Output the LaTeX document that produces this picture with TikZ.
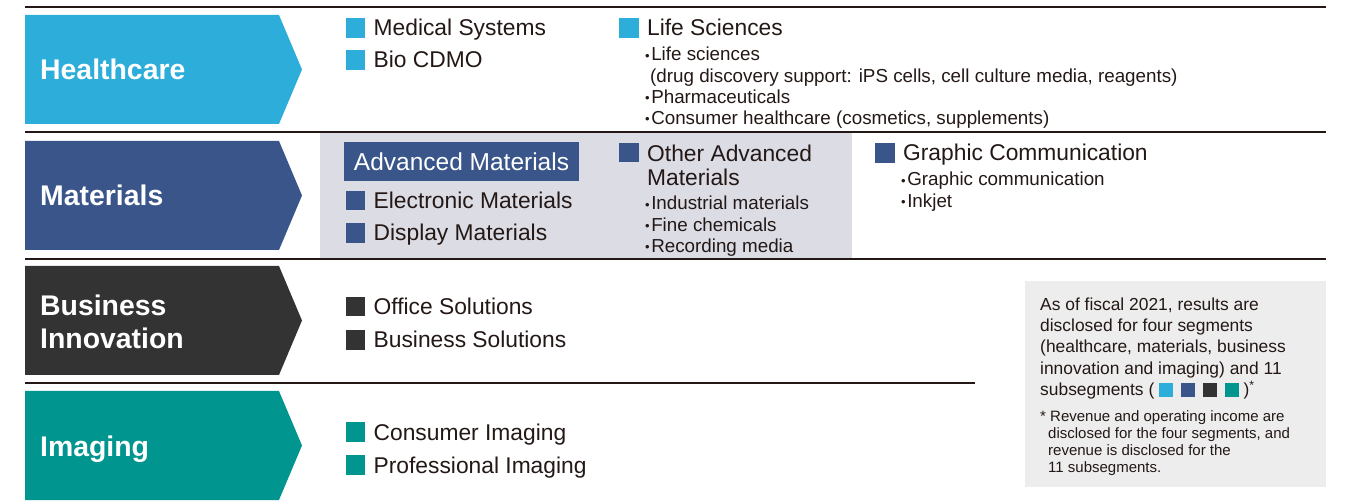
\documentclass[tikz,border=0pt]{standalone}
\usepackage{fontspec}
\setmainfont{Liberation Sans}
\usetikzlibrary{positioning}

\definecolor{hccyan}{HTML}{2DADD9}
\definecolor{matblue}{HTML}{39558A}
\definecolor{bidark}{HTML}{333333}
\definecolor{imgteal}{HTML}{00958F}
\definecolor{advgray}{HTML}{DCDCE5}
\definecolor{notegray}{HTML}{EDEDED}
\definecolor{inkblack}{HTML}{231815}

\newcommand{\pdot}{\raisebox{0.8pt}{\fontsize{13}{13}\selectfont\textbullet}\hspace{1.5pt}}
\newcommand{\keysq}[1]{\raisebox{-1pt}{\textcolor{#1}{\rule{13.5pt}{13.5pt}}}}

\begin{document}
\begin{tikzpicture}[x=1pt,y=-1pt]
	
	\tikzset{segment title/.style={
			inner sep=0pt,
			text=white,
			align=left,
			font=\fontsize{28.4}{33}\selectfont\bfseries
		},
		one line/.style={anchor=west, text height=20pt, text depth=0pt},
		sub square/.style={fill=#1, minimum size=19.5pt, inner sep=0pt},
		sub label/.style={
			inner sep=0pt,
			text=inkblack,
			text height=16pt, text depth=0pt,
			font=\fontsize{22.8}{24.5}\selectfont
		},
		sub block/.style={anchor=north west, inner sep=0pt, text=inkblack, align=left,
			font=\fontsize{22.8}{24.5}\selectfont},
		detail list/.style={anchor=north west, inner sep=0pt, text=inkblack, align=left,
			font=\fontsize{18.8}{21.3}\selectfont},
		note text/.style={anchor=north west, inner sep=0pt, text=inkblack, align=left,
			font=\fontsize{17.4}{21.3}\selectfont},
		note foot/.style={anchor=north west, inner sep=0pt, text=inkblack, align=left,
			font=\fontsize{15}{17.3}\selectfont},
		rule line/.style={draw=inkblack, line width=2.4pt}
	}
	
	\useasboundingbox (0,0) rectangle (1352,502);
	
	% shaded block behind the advanced materials subsegments
	\fill[advgray] (320,133) rectangle (852,258);
	\fill[notegray] (1025,281) rectangle (1326,487);
	
	% segment arrows
	\foreach \top/\col in {15/hccyan, 141/matblue, 266/bidark, 391/imgteal}
	\fill[\col] (25,\top) -- (279,\top) -- (302,{\top+54.5}) -- (279,{\top+109}) -- (25,{\top+109}) -- cycle;
	
	\foreach \y in {7,132,259}
	\draw[rule line] (25,\y) -- (1326,\y);
	\draw[rule line] (25,383) -- (975,383);
	
	\node[segment title, one line] (hc) at (40,70) {Healthcare};
	\node[segment title, one line] (mat) at (40,195.5) {Materials};
	\node[segment title, anchor=north west] (bi) at (40,294.5) {Business\\Innovation};
	\node[segment title, one line] (img) at (40,446) {Imaging};
	
	% healthcare
	\node[sub square=hccyan] (ms-sq) at (355.5,28) {};
	\node[sub label, right=8pt of ms-sq] (ms) {Medical Systems};
	\node[sub square=hccyan] (bio-sq) at (355.5,60) {};
	\node[sub label, right=8pt of bio-sq] (bio) {Bio CDMO};
	\node[sub square=hccyan] (ls-sq) at (629,28) {};
	\node[sub label, right=8pt of ls-sq] (ls) {Life Sciences};
	\node[detail list] (ls-list) at (645,47) {\pdot Life sciences\\
		\hspace*{5pt}(drug discovery support: iPS cells, cell culture media, reagents)\\
		\pdot Pharmaceuticals\\
		\pdot Consumer healthcare (cosmetics, supplements)};
	
	% materials
	\node[fill=matblue, text=white, minimum width=235pt, minimum height=39.5pt, inner sep=0pt,
		font=\fontsize{24.5}{26}\selectfont] (adv) at (461.5,161.5) {Advanced Materials};
	\node[sub square=matblue] (em-sq) at (355.5,200.5) {};
	\node[sub label, right=8pt of em-sq] (em) {Electronic Materials};
	\node[sub square=matblue] (dm-sq) at (355.5,233) {};
	\node[sub label, right=8pt of dm-sq] (dm) {Display Materials};
	\node[sub square=matblue] (oam-sq) at (629,152.5) {};
	\node[sub block] (oam) at (647,144.5) {Other Advanced\\Materials};
	\node[detail list] (oam-list) at (645,196) {\pdot Industrial materials\\
		\pdot Fine chemicals\\
		\pdot Recording media};
	\node[sub square=matblue] (gc-sq) at (885,153) {};
	\node[sub label, right=8pt of gc-sq] (gc) {Graphic Communication};
	\node[detail list] (gc-list) at (901,172) {\pdot Graphic communication\\
		\pdot Inkjet};
	
	% business innovation
	\node[sub square=bidark] (os-sq) at (355.5,306.5) {};
	\node[sub label, right=8pt of os-sq] (os) {Office Solutions};
	\node[sub square=bidark] (bs-sq) at (355.5,340) {};
	\node[sub label, right=8pt of bs-sq] (bs) {Business Solutions};
	
	% imaging
	\node[sub square=imgteal] (ci-sq) at (355.5,432) {};
	\node[sub label, right=8pt of ci-sq] (ci) {Consumer Imaging};
	\node[sub square=imgteal] (pi-sq) at (355.5,465) {};
	\node[sub label, right=8pt of pi-sq] (pi) {Professional Imaging};
	
	% note
	\node[note text] (note) at (1040,297.5) {As of fiscal 2021, results are\\
		disclosed for four segments\\
		(healthcare, materials, business\\
		innovation and imaging) and 11\\
		subsegments ( \keysq{hccyan}\hspace{8.5pt}\keysq{matblue}\hspace{8.5pt}\keysq{bidark}\hspace{8.5pt}\keysq{imgteal} )\textsuperscript{*}};
	\node[note foot] (foot) at (1040,410) {* Revenue and operating income are\\
		\hspace*{8pt}disclosed for the four segments, and\\
		\hspace*{8pt}revenue is disclosed for the\\
		\hspace*{8pt}11 subsegments.};
	
\end{tikzpicture}
\end{document}
